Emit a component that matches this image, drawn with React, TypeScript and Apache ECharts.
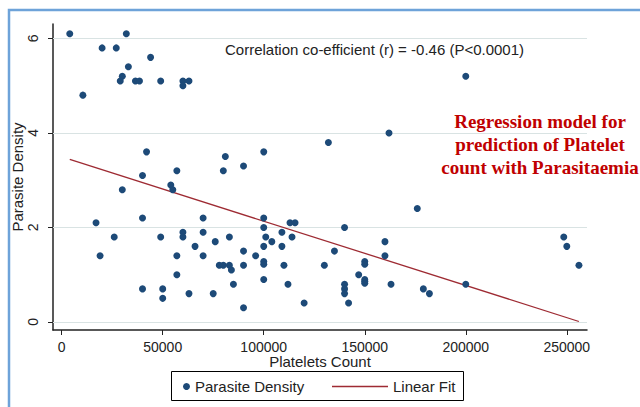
import React, { useEffect, useRef } from "react";
import * as echarts from "echarts";

// Platelet count (x) and parasite density (y) for each patient
const platelets = [
  4000, 32000, 20000, 27000, 44000, 33000, 30000, 29000, 36500, 38500,
  49000, 60000, 60000, 63000, 10500, 200000, 162000, 132000, 42000, 100000,
  81000, 40000, 57000, 80000, 90000, 30000, 54000, 55000, 17000, 40000,
  70000, 100000, 113000, 115500, 100000, 140000, 109000, 70000, 60000, 101000,
  114000, 83000, 26000, 49000, 60000, 76000, 104000, 160000, 66000, 100000,
  109000, 19000, 57000, 70000, 96000, 160000, 90000, 135000, 100000, 100000,
  150000, 150000, 78000, 80000, 83000, 84000, 90000, 110000, 130000, 147000,
  150000, 150000, 150000, 140000, 140000, 140000, 85000, 100000, 112000, 75000,
  120000, 90000, 142000, 163000, 57000, 40000, 50000, 50000, 63000, 176000,
  179000, 182000, 200000, 248500, 250000, 256000,
];
const density = [
  6.1, 6.1, 5.8, 5.8, 5.6, 5.4, 5.2, 5.1, 5.1, 5.1,
  5.1, 5.1, 5.0, 5.1, 4.8, 5.2, 4.0, 3.8, 3.6, 3.6,
  3.5, 3.1, 3.2, 3.2, 3.3, 2.8, 2.9, 2.8, 2.1, 2.2,
  2.2, 2.2, 2.1, 2.1, 2.0, 2.0, 1.9, 1.9, 1.9, 1.8,
  1.8, 1.8, 1.8, 1.8, 1.8, 1.7, 1.7, 1.7, 1.6, 1.6,
  1.6, 1.4, 1.4, 1.4, 1.4, 1.4, 1.5, 1.5, 1.28, 1.22,
  1.28, 1.22, 1.2, 1.2, 1.2, 1.1, 1.2, 1.2, 1.2, 1.0,
  0.9, 0.86, 0.82, 0.8, 0.7, 0.6, 0.8, 0.9, 0.8, 0.6,
  0.4, 0.3, 0.4, 0.8, 1.0, 0.7, 0.7, 0.5, 0.6, 2.4,
  0.7, 0.6, 0.8, 1.8, 1.6, 1.2,
];

// Linear fit end points
const fitX = [4000, 256000];
const fitY = [3.44, 0.01];

const xTicks = [0, 50000, 100000, 150000, 200000, 250000];
const yTicks = [0, 2, 4, 6];

const seriesNames = ["Parasite Density", "Linear Fit"];
const xTitle = "Platelets Count";
const yTitle = "Parasite Density";
const annotation = "Correlation co-efficient (r) = -0.46 (P<0.0001)";
const noteLines = ["Regression model for", "prediction of Platelet", "count with Parasitaemia"];

const SANS = "'Liberation Sans', Arial, sans-serif";
const SERIF = "'Liberation Serif', 'Times New Roman', serif";

export default function App() {
  const ref = useRef<HTMLDivElement>(null);

  useEffect(() => {
    if (!ref.current) return;
    const chart = echarts.init(ref.current, undefined, { renderer: "svg" });

    const points = platelets.map((x, i) => [x, density[i]]);
    const fit = fitX.map((x, i) => [x, fitY[i]]);
    const gridLines = yTicks.map((v) => [
      { coord: [-4300, v] },
      { coord: [260000, v] },
    ]);

    const option: any = {
      animation: false,
      backgroundColor: "#ffffff",
      grid: { left: 53, right: 53, top: 24, bottom: 77, containLabel: false },
      xAxis: {
        type: "value",
        min: -4300,
        max: 260000,
        name: xTitle,
        nameLocation: "middle",
        nameGap: 24,
        nameMoveOverlap: false,
        nameTextStyle: { fontSize: 15, lineHeight: 15, fontFamily: SANS, color: "#222" },
        axisLine: { show: true, onZero: false, lineStyle: { color: "#222", width: 1.5 } },
        axisTick: { show: true, length: 5, customValues: xTicks, lineStyle: { color: "#222" } },
        axisLabel: {
          customValues: xTicks,
          fontSize: 14,
          lineHeight: 14,
          fontFamily: SANS,
          color: "#222",
          margin: 10,
          formatter: (v: number) => String(v),
        },
        splitLine: { show: false },
      },
      yAxis: {
        type: "value",
        min: -0.17,
        max: 6.306,
        name: yTitle,
        nameLocation: "middle",
        nameGap: 28,
        nameMoveOverlap: false,
        nameTextStyle: { fontSize: 15, fontFamily: SANS, color: "#222" },
        axisLine: { show: true, onZero: false, lineStyle: { color: "#222", width: 1.5 } },
        axisTick: { show: true, length: 5, customValues: yTicks, lineStyle: { color: "#222" } },
        axisLabel: {
          customValues: yTicks,
          rotate: 90,
          fontSize: 14,
          fontFamily: SANS,
          color: "#222",
          margin: 13,
          formatter: (v: number) => String(v),
        },
        splitLine: { show: false },
      },
      legend: [
        {
          data: [{ name: seriesNames[0], icon: "circle" }],
          left: 183,
          top: 379,
          padding: 0,
          itemWidth: 7,
          itemHeight: 7,
          textStyle: { fontSize: 15, fontFamily: SANS, color: "#222" },
        },
        {
          data: [{ name: seriesNames[1], icon: "rect" }],
          left: 332,
          top: 379,
          padding: 0,
          itemWidth: 56,
          itemHeight: 1.3,
          itemStyle: { color: "#9e2b33" },
          textStyle: { fontSize: 15, fontFamily: SANS, color: "#222" },
        },
      ],
      series: [
        {
          name: seriesNames[1],
          type: "line",
          data: fit,
          symbol: "none",
          showSymbol: false,
          z: 2,
          lineStyle: { color: "#9e2b33", width: 1.3 },
          itemStyle: { color: "#9e2b33" },
          markLine: {
            silent: true,
            symbol: ["none", "none"],
            label: { show: false },
            z: 1,
            lineStyle: { color: "#d9e3e3", width: 1, type: "solid" },
            data: gridLines,
          },
        },
        {
          name: seriesNames[0],
          type: "scatter",
          data: points,
          symbol: "circle",
          symbolSize: 7,
          z: 3,
          itemStyle: { color: "#1d4a78", opacity: 1 },
        },
      ],
      graphic: [
        {
          type: "rect",
          z: -10,
          shape: { x: 9, y: 10, width: 720, height: 500 },
          style: { fill: "none", stroke: "#6ea3d9", lineWidth: 2.5 },
          silent: true,
        },
        {
          type: "rect",
          z: 0,
          shape: { x: 171.5, y: 371.5, width: 292, height: 29 },
          style: { fill: "#ffffff", stroke: "#000000", lineWidth: 1 },
          silent: true,
        },
        {
          type: "text",
          left: 225,
          top: 42,
          style: {
            text: annotation,
            fontSize: 15,
            fontFamily: SANS,
            fill: "#222",
          },
        },
        {
          type: "text",
          x: 540,
          y: 110,
          style: {
            text: noteLines.join("\n"),
            fontSize: 19,
            fontWeight: "bold",
            fontFamily: SERIF,
            fill: "#c00000",
            textAlign: "center",
            textVerticalAlign: "top",
            lineHeight: 23,
          },
        },
      ],
    };

    chart.setOption(option);
    return () => chart.dispose();
  }, []);

  return (
    <div
      ref={ref}
      style={{ position: "absolute", left: 0, top: 0, width: 640, height: 407 }}
    />
  );
}
